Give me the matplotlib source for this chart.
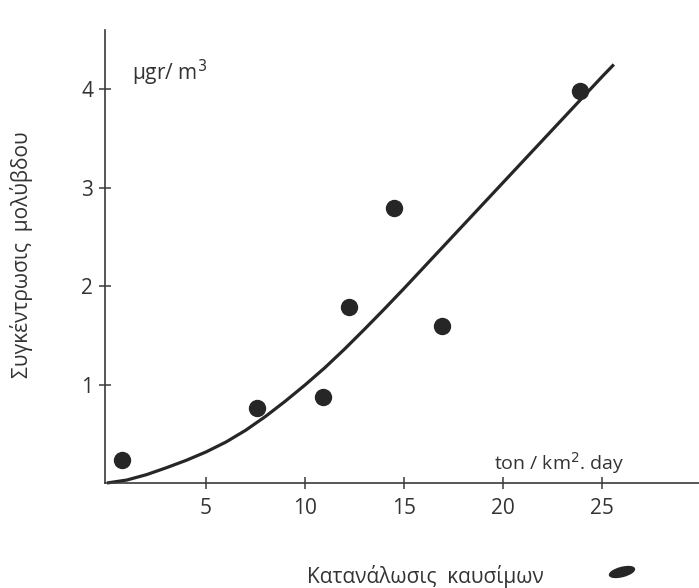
import matplotlib
matplotlib.use("Agg")
import matplotlib.pyplot as plt
from matplotlib.patches import Ellipse

plt.rcParams['font.family'] = ['Open Sans', 'DejaVu Sans']

# measured points
fuel = [0.76, 7.6, 10.9, 12.2, 14.5, 16.9, 23.9]
lead = [0.23, 0.76, 0.87, 1.79, 2.79, 1.59, 3.98]

# fitted curve
curve_x = [0, 1, 2, 3, 4, 5, 6, 7, 8, 9, 10, 11, 12, 13, 14, 15, 16, 17, 18,
           19, 20, 21, 22, 23, 24, 25, 25.6]
curve_y = [0.0, 0.03, 0.085, 0.155, 0.23, 0.315, 0.415, 0.535, 0.675, 0.83,
           0.995, 1.17, 1.36, 1.56, 1.765, 1.975, 2.19, 2.405, 2.62, 2.835,
           3.05, 3.265, 3.48, 3.695, 3.91, 4.125, 4.25]

xticks = [5, 10, 15, 20, 25]
yticks = [1, 2, 3, 4]

W, H = 699, 588
fig = plt.figure(figsize=(W / 100, H / 100), dpi=100)
ax = fig.add_axes([105 / W, (H - 483) / H, (W - 105) / W, (483 - 30) / H])
ax.set_xlim(-0.1, 29.9)
ax.set_ylim(0, 4.6)

ink = '#262626'
ax.plot(curve_x, curve_y, color=ink, lw=2.3, solid_capstyle='butt',
        solid_joinstyle='round', clip_on=False)
ax.plot(fuel, lead, 'o', color=ink, ms=11.5, clip_on=False)

for s in ['top', 'right']:
    ax.spines[s].set_visible(False)
for s in ['left', 'bottom']:
    ax.spines[s].set_color('#3a3a3a')
    ax.spines[s].set_linewidth(1.2)

ax.set_xticks(xticks)
ax.set_yticks(yticks)
ax.set_xticklabels([str(v) for v in xticks])
ax.set_yticklabels([str(v) for v in yticks])
ax.tick_params(axis='both', direction='inout', length=9, width=1.1,
               color='#3a3a3a', labelsize=15, labelcolor='#333333')
ax.tick_params(axis='x', pad=6)
ax.tick_params(axis='y', pad=4)

ax.text(0.045, 0.905, 'μgr/ m$^3$', transform=ax.transAxes, fontsize=15,
        color='#333333', va='center', ha='left')
ax.text(0.655, 0.045, 'ton / km$^2$. day', transform=ax.transAxes, fontsize=14,
        color='#333333', va='center', ha='left')

fig.text(22 / W, 1 - 255 / H, 'Συγκέντρωσις  μολύβδου', rotation=90,
         fontsize=15, color='#333333', ha='center', va='center')
fig.text(425 / W, 1 - 576 / H, 'Κατανάλωσις  καυσίμων', fontsize=15,
         color='#333333', ha='center', va='center')

blob = Ellipse((622 / W, 1 - 572 / H), 26 / W, 9 / H, angle=18,
               transform=fig.transFigure, color=ink)
fig.patches.append(blob)

fig.savefig('out.png', dpi=100)
